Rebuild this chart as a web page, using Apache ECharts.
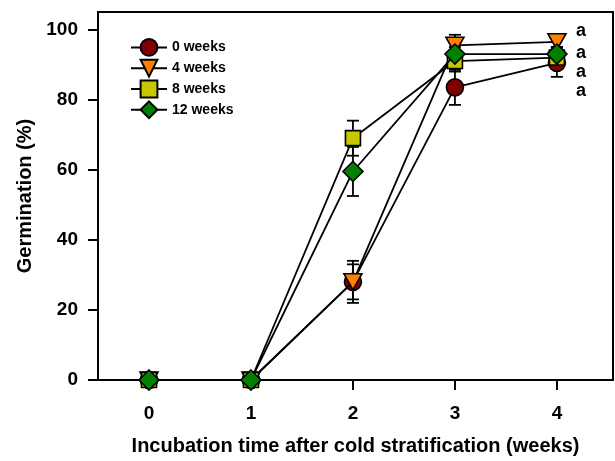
<!DOCTYPE html>
<html>
<head>
<meta charset="utf-8">
<script src="https://cdn.jsdelivr.net/npm/echarts@6/dist/echarts.min.js"></script>
<style>
html,body{margin:0;padding:0;background:#fff;}
#chart{width:615px;height:461px;}
</style>
</head>
<body>
<div id="chart"></div>
<script>
// ---- data ----
var weeks = [0, 1, 2, 3, 4];
var xTicks = [0, 1, 2, 3, 4];
var yTicks = [0, 20, 40, 60, 80, 100];
var seriesNames = ['0 weeks', '4 weeks', '8 weeks', '12 weeks'];
var g0 = [0, 0, 28, 83.5, 90.5];
var e0 = [0, 0, 6, 5, 4];
var g4 = [0, 0, 28, 95.5, 96.5];
var e4 = [0, 0, 5, 3, 1.5];
var g8 = [0, 0, 69, 91, 92];
var e8 = [0, 0, 5, 3, 2];
var g12 = [0, 0, 59.5, 93, 93];
var e12 = [0, 0, 7, 2, 2];
var sigLetters = ['a', 'a', 'a', 'a'];
var sigY = [99.5, 93.3, 87.8, 82.4];
var sigX = 4;

var FONT = 'Arial, "Liberation Sans", sans-serif';
var means = [g0, g4, g8, g12];
var errs = [e0, e4, e8, e12];
var colors = ['#800000', '#FF8000', '#C8C800', '#008000'];
var symbols = ['circle', 'path://M0,0 L10,0 L5,9 Z', 'rect', 'diamond'];
var sizes = [17, [18, 16], 15, [20, 20]];

var series = [];
// error bars
means.forEach(function (m, i) {
  var d = weeks.map(function (w, k) { return [w, m[k], errs[i][k]]; });
  series.push({
    type: 'custom',
    z: 1,
    silent: true,
    data: d,
    renderItem: function (params, api) {
      var x = api.value(0), y = api.value(1), e = api.value(2);
      if (!e) return null;
      var top = api.coord([x, y + e]);
      var bot = api.coord([x, y - e]);
      var hw = 6;
      var st = { stroke: '#000', lineWidth: 1.8 };
      return {
        type: 'group',
        children: [
          { type: 'line', shape: { x1: top[0], y1: top[1], x2: bot[0], y2: bot[1] }, style: st },
          { type: 'line', shape: { x1: top[0] - hw, y1: top[1], x2: top[0] + hw, y2: top[1] }, style: st },
          { type: 'line', shape: { x1: bot[0] - hw, y1: bot[1], x2: bot[0] + hw, y2: bot[1] }, style: st }
        ]
      };
    }
  });
});
// lines + markers
means.forEach(function (m, i) {
  series.push({
    type: 'line',
    name: seriesNames[i],
    z: 2 + i,
    data: weeks.map(function (w, k) { return [w, m[k]]; }),
    symbol: symbols[i],
    symbolSize: sizes[i],
    showAllSymbol: true,
    lineStyle: { color: '#000', width: 1.8 },
    itemStyle: { color: colors[i], borderColor: '#000', borderWidth: 1.6 },
    emphasis: { disabled: true },
    animation: false
  });
});
// significance letters
series.push({
  type: 'custom',
  z: 10,
  silent: true,
  data: sigY.map(function (y, k) { return [sigX, y, k]; }),
  renderItem: function (params, api) {
    var p = api.coord([api.value(0), api.value(1)]);
    return {
      type: 'text',
      x: p[0] + 19,
      y: p[1],
      style: {
        text: sigLetters[api.value(2)],
        fill: '#000',
        font: 'bold 18px ' + FONT,
        verticalAlign: 'middle',
        align: 'left'
      }
    };
  }
});

var chart = echarts.init(document.getElementById('chart'), null, { renderer: 'canvas' });
chart.setOption({
  animation: false,
  backgroundColor: '#fff',
  grid: { left: 98, right: 2, top: 12, bottom: 80, show: true, borderColor: '#000', borderWidth: 2, backgroundColor: 'transparent' },
  legend: {
    orient: 'vertical',
    left: 125,
    top: 33,
    itemWidth: 36,
    itemHeight: 21,
    itemGap: 2,
    data: seriesNames,
    textStyle: { fontFamily: FONT, fontWeight: 'bold', fontSize: 14, color: '#000' },
    selectedMode: false
  },
  xAxis: {
    type: 'value',
    min: -0.5,
    max: 4.55,
    name: 'Incubation time after cold stratification (weeks)',
    nameLocation: 'middle',
    nameGap: 56,
    nameTextStyle: { fontFamily: FONT, fontWeight: 'bold', fontSize: 20, color: '#000' },
    axisLine: { onZero: false, lineStyle: { color: '#000', width: 2 } },
    axisTick: { show: true, length: 10, inside: false, lineStyle: { color: '#000', width: 2 }, customValues: xTicks },
    axisLabel: { customValues: xTicks, margin: 24, fontFamily: FONT, fontWeight: 'bold', fontSize: 19, color: '#000' },
    splitLine: { show: false }
  },
  yAxis: {
    type: 'value',
    min: 0,
    max: 105,
    name: 'Germination (%)',
    nameLocation: 'middle',
    nameGap: 63,
    nameRotate: 90,
    nameTextStyle: { fontFamily: FONT, fontWeight: 'bold', fontSize: 20, color: '#000' },
    axisLine: { onZero: false, lineStyle: { color: '#000', width: 2 } },
    axisTick: { show: true, length: 10, inside: false, lineStyle: { color: '#000', width: 2 }, customValues: yTicks },
    axisLabel: { customValues: yTicks, margin: 20, fontFamily: FONT, fontWeight: 'bold', fontSize: 19, color: '#000' },
    splitLine: { show: false }
  },
  series: series
});
</script>
</body>
</html>
